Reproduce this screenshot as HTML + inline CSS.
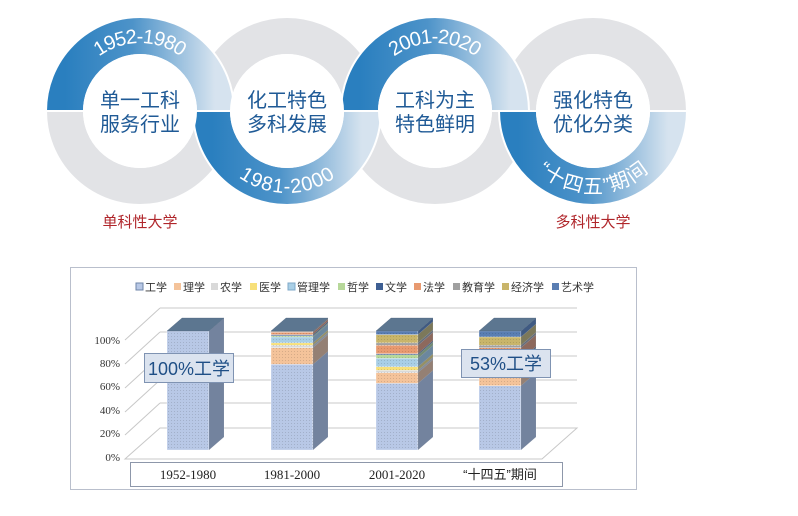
<!DOCTYPE html>
<html><head><meta charset="utf-8"><style>
body{margin:0;background:#fff;width:798px;height:516px;overflow:hidden}
svg{display:block}
.c{font-family:"Liberation Sans","Noto Sans CJK SC",sans-serif}
</style></head><body>
<svg width="798" height="516" viewBox="0 0 798 516" class="c">
<defs>
<linearGradient id="g1" x1="0" y1="0" x2="1" y2="0"><stop offset="0" stop-color="#2a7fbf"/><stop offset="0.45" stop-color="#4d93c9"/><stop offset="1" stop-color="#d6e3ef"/></linearGradient>
<pattern id="dots" width="3" height="3" patternUnits="userSpaceOnUse"><rect width="3" height="3" fill="none"/><rect width="1" height="1" fill="#000" opacity="0.12"/></pattern>
<path id="a1" d="M 65,111 A 75,75 0 0 1 215,111"/>
<path id="a2" d="M 212,111 A 75,75 0 0 0 362,111"/>
<path id="a3" d="M 360,111 A 75,75 0 0 1 510,111"/>
<path id="a4" d="M 518,111 A 75,75 0 0 0 668,111"/>
</defs>
<g fill="none" stroke="#e2e3e6" stroke-width="36">
<circle cx="140" cy="111" r="75"/><circle cx="287" cy="111" r="75"/><circle cx="435" cy="111" r="75"/><circle cx="593" cy="111" r="75"/>
</g>
<g fill="none" stroke="url(#g1)" stroke-width="36">
<path d="M 65,111 A 75,75 0 0 1 215,111" stroke="#fff" stroke-width="40"/>
<path d="M 65,111 A 75,75 0 0 1 215,111"/>
<path d="M 212,111 A 75,75 0 0 0 362,111" stroke="#fff" stroke-width="40"/>
<path d="M 212,111 A 75,75 0 0 0 362,111"/>
<path d="M 360,111 A 75,75 0 0 1 510,111" stroke="#fff" stroke-width="40"/>
<path d="M 360,111 A 75,75 0 0 1 510,111"/>
<path d="M 518,111 A 75,75 0 0 0 668,111" stroke="#fff" stroke-width="40"/>
<path d="M 518,111 A 75,75 0 0 0 668,111"/>
</g>
<g stroke="#fff" stroke-width="2"><line x1="40" y1="111" x2="700" y2="111"/></g>
<g fill="#fff"><circle cx="140" cy="111" r="57"/><circle cx="287" cy="111" r="57"/><circle cx="435" cy="111" r="57"/><circle cx="593" cy="111" r="57"/></g>
<g fill="#fff" font-size="20" text-anchor="middle">
<text dy="7"><textPath href="#a1" startOffset="50%">1952-1980</textPath></text>
<text dy="7"><textPath href="#a2" startOffset="50%">1981-2000</textPath></text>
<text dy="7"><textPath href="#a3" startOffset="50%">2001-2020</textPath></text>
<text dy="7"><textPath href="#a4" startOffset="50%">“十四五”期间</textPath></text>
</g>
<g fill="#1f5a96" font-size="20" text-anchor="middle">
<text x="140" y="107">单一工科</text><text x="140" y="131">服务行业</text>
<text x="287" y="107">化工特色</text><text x="287" y="131">多科发展</text>
<text x="435" y="107">工科为主</text><text x="435" y="131">特色鲜明</text>
<text x="593" y="107">强化特色</text><text x="593" y="131">优化分类</text>
</g>
<g fill="#b0262b" font-size="15" text-anchor="middle"><text x="140" y="227">单科性大学</text><text x="593" y="227">多科性大学</text></g>

<rect x="70.5" y="267.5" width="566" height="222" fill="#fff" stroke="#b9bfcc"/>
<g font-size="11" fill="#333">
<rect x="136" y="283" width="7" height="7" fill="#b8c8e6" stroke="#6f86a8"/><text x="145" y="291">工学</text>
<rect x="174" y="283" width="7" height="7" fill="#f4c39a"/><text x="183" y="291">理学</text>
<rect x="211" y="283" width="7" height="7" fill="#d9d9d9"/><text x="220" y="291">农学</text>
<rect x="250" y="283" width="7" height="7" fill="#f7e07a"/><text x="259" y="291">医学</text>
<rect x="288" y="283" width="7" height="7" fill="#a9cfe6" stroke="#7fa8c8"/><text x="297" y="291">管理学</text>
<rect x="338" y="283" width="7" height="7" fill="#b7d89a"/><text x="347" y="291">哲学</text>
<rect x="376" y="283" width="7" height="7" fill="#3e5f93"/><text x="385" y="291">文学</text>
<rect x="414" y="283" width="7" height="7" fill="#e89a70"/><text x="423" y="291">法学</text>
<rect x="453" y="283" width="7" height="7" fill="#a0a0a0"/><text x="462" y="291">教育学</text>
<rect x="502" y="283" width="7" height="7" fill="#c9b56a"/><text x="511" y="291">经济学</text>
<rect x="552" y="283" width="7" height="7" fill="#5a7eb3"/><text x="561" y="291">艺术学</text>
</g>
<g stroke="#c8c8c8" fill="none">
<path d="M160,308H577M160,332H577M160,356H577M160,380H577M160,403H577"/>
<path d="M125,340L160,308M125,364L160,332M125,388L160,356M125,412L160,380M125,435L160,403"/>
<path d="M125,459L160,428H577L542,459Z"/>
</g>
<g font-family="Liberation Serif" font-size="11" fill="#333" text-anchor="end">
<text x="120" y="344">100%</text><text x="120" y="367">80%</text><text x="120" y="390">60%</text><text x="120" y="414">40%</text><text x="120" y="437">20%</text><text x="120" y="461">0%</text>
</g>
<g id="bars" stroke="#ffffff" stroke-width="0.3"></g>
<rect x="144.5" y="353.5" width="89" height="29" fill="#dbe3ef" stroke="#7f93b2"/>
<text x="189" y="375" text-anchor="middle" font-size="18" fill="#1f4f86">100%工学</text>
<rect x="461.5" y="349.5" width="89" height="28" fill="#dbe3ef" stroke="#7f93b2"/>
<text x="506" y="370" text-anchor="middle" font-size="18" fill="#1f4f86">53%工学</text>
<rect x="130.5" y="462.5" width="432" height="24" fill="#fff" stroke="#8d97aa"/>
<g font-family="Liberation Serif,Noto Serif CJK SC,serif" font-size="13" fill="#222" text-anchor="middle">
<text x="188" y="479">1952-1980</text><text x="292" y="479">1981-2000</text><text x="397" y="479">2001-2020</text>
<text x="500" y="479" font-family="Liberation Sans,Noto Sans CJK SC,sans-serif">“十四五”期间</text>
</g>
</svg>
<script>
var cols=["#b8c8e6","#f4c39a","#d9d9d9","#f7e07a","#a9cfe6","#b7d89a","#3e5f93","#e89a70","#a0a0a0","#c9b56a","#5a7eb3"];
var bars=[[167,[100]],[271,[72,86,88,90,95,96,97,99,100]],[376,[56,65,67,70,77,80,81,88,90,97,100]],[479,[54,62,64,66,72,75,76,86,88,95,100]]];
var s="",W=42,D=15,H=13;function y(p){return 450-1.19*p}
bars.forEach(function(b){var x=b[0],prev=0;b[1].forEach(function(c,i){var ya=y(prev),yb=y(c);var col=cols[i];
s+='<rect x="'+x+'" y="'+yb+'" width="'+W+'" height="'+(ya-yb)+'" fill="'+col+'"/>';
s+='<polygon points="'+(x+W)+','+ya+' '+(x+W+D)+','+(ya-H)+' '+(x+W+D)+','+(yb-H)+' '+(x+W)+','+yb+'" fill="'+col+'"/>';prev=c;});
s+='<rect x="'+x+'" y="331" width="'+W+'" height="119" fill="url(#dots)" stroke="none"/>';
s+='<polygon points="'+(x+W)+',450 '+(x+W+D)+','+(450-H)+' '+(x+W+D)+','+(331-H)+' '+(x+W)+',331" fill="#1e2f48" opacity="0.45" stroke="none"/>';
s+='<polygon points="'+x+',331 '+(x+W)+',331 '+(x+W+D)+','+(331-H)+' '+(x+D)+','+(331-H)+'" fill="#5c7690" stroke="#4a6078"/>';});
document.getElementById("bars").innerHTML=s;
</script>
</body></html>
